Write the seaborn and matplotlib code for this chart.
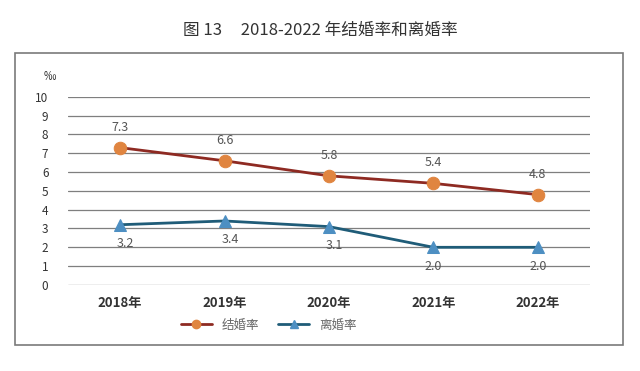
import matplotlib
matplotlib.use('Agg')
import matplotlib.pyplot as plt
import seaborn as sns
import pandas as pd
from matplotlib.patches import Rectangle
from matplotlib.lines import Line2D

# chart data
years = ['2018年', '2019年', '2020年', '2021年', '2022年']
marriage_rate = [7.3, 6.6, 5.8, 5.4, 4.8]
divorce_rate = [3.2, 3.4, 3.1, 2.0, 2.0]
y_ticks = list(range(0, 11))

sns.set_style('white')
plt.rcParams['font.family'] = ['Noto Sans CJK SC', 'DejaVu Sans']

df = pd.DataFrame({'year': years, '结婚率': marriage_rate, '离婚率': divorce_rate})
df['x'] = range(len(years))

fig = plt.figure(figsize=(6.4, 3.71), dpi=100)
ax = fig.add_axes([0.106, 0.232, 0.816, 0.507])

# outer frame around the chart
fig.patches.append(Rectangle((15 / 640, 1 - 345 / 371), 608 / 640, 292 / 371,
                             transform=fig.transFigure, fill=False,
                             edgecolor='#7a7a7a', lw=1.2))

for yv in y_ticks:
    ax.axhline(yv, color='#7f7f7f', lw=0.9, zorder=0)

sns.lineplot(data=df, x='x', y='结婚率', ax=ax, color='#8e2a22', lw=2,
             marker='o', markersize=9, markerfacecolor='#e08540',
             markeredgecolor='#e08540', zorder=3)
sns.lineplot(data=df, x='x', y='离婚率', ax=ax, color='#1f5c78', lw=2,
             marker='^', markersize=9, markerfacecolor='#4d8fc2',
             markeredgecolor='#4d8fc2', zorder=3)

for i in range(len(years)):
    ax.annotate(f'{marriage_rate[i]:.1f}', (i, marriage_rate[i]), xytext=(0, 10),
                textcoords='offset points', ha='center', va='bottom',
                fontsize=9, color='#555555')
    ax.annotate(f'{divorce_rate[i]:.1f}', (i, divorce_rate[i]), xytext=(4 if i < 3 else 0, -9),
                textcoords='offset points', ha='center', va='top',
                fontsize=9, color='#555555')

ax.set_xlim(-0.5, 4.5)
ax.set_ylim(0, 10)
ax.set_yticks(y_ticks)
ax.set_yticklabels([str(v) for v in y_ticks], fontsize=8.5, color='#333333')
ax.set_xticks(range(len(years)))
ax.set_xticklabels(years, fontsize=9.5, fontweight='bold', color='#333333')
ax.tick_params(axis='y', length=0, pad=14)
ax.tick_params(axis='x', length=0, pad=8)
ax.set_xlabel('')
ax.set_ylabel('')
for s in ax.spines.values():
    s.set_visible(False)

fig.text(50 / 640, 1 - 76 / 371, '‰', fontsize=9, color='#333333', ha='center', va='center')

fig.text(0.5, 1 - 30 / 371, '图 13     2018-2022 年结婚率和离婚率', fontsize=12,
         color='#333333', ha='center', va='center')

handles = [
    Line2D([0], [0], color='#8e2a22', lw=2, marker='o', markersize=6,
           markerfacecolor='#e08540', markeredgecolor='#e08540'),
    Line2D([0], [0], color='#1f5c78', lw=2, marker='^', markersize=6,
           markerfacecolor='#4d8fc2', markeredgecolor='#4d8fc2'),
]
fig.legend(handles, ['结婚率', '离婚率'], loc='center', bbox_to_anchor=(0.42, 1 - 325 / 371),
           ncol=2, frameon=False, fontsize=9, handlelength=2.5, columnspacing=1.5,
           labelcolor='#666666')

fig.savefig('out.png', dpi=100)
